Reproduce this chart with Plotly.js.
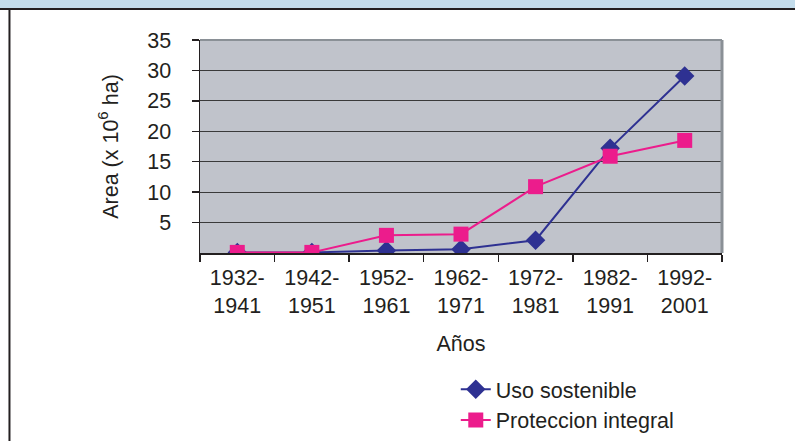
<!DOCTYPE html>
<html>
<head>
<meta charset="utf-8">
<script src="https://cdn.plot.ly/plotly-3.0.1.min.js"></script>
<style>
html,body{margin:0;padding:0;background:#fff;}
#chart{width:795px;height:441px;}
</style>
</head>
<body>
<div id="chart"></div>
<script>
const categories = ["1932-<br>1941","1942-<br>1951","1952-<br>1961","1962-<br>1971","1972-<br>1981","1982-<br>1991","1992-<br>2001"];
const usoSostenible = [0.1, 0.1, 0.4, 0.6, 2.1, 17.2, 29.1];
const proteccionIntegral = [0.1, 0.1, 2.9, 3.1, 10.9, 15.9, 18.5];
const yTicks = [5, 10, 15, 20, 25, 30, 35];

const font = {family: "Liberation Sans, Arial, sans-serif", size: 21.5, color: "#231f20"};

const traces = [
  {
    x: categories, y: usoSostenible, name: "Uso sostenible",
    type: "scatter", mode: "lines+markers",
    line: {color: "#2e3192", width: 2},
    marker: {symbol: "diamond", size: 15, color: "#2e3192"}
  },
  {
    x: categories, y: proteccionIntegral, name: "Proteccion integral",
    type: "scatter", mode: "lines+markers",
    line: {color: "#ec1c8c", width: 2},
    marker: {symbol: "square", size: 15, color: "#ec1c8c"}
  }
];

const layout = {
  width: 795, height: 441,
  margin: {l: 200, r: 73, t: 40, b: 188, autoexpand: false},
  paper_bgcolor: "#ffffff",
  plot_bgcolor: "#c0c3cb",
  font: font,
  showlegend: true,
  legend: {
    x: 0.49, xanchor: "left", y: -0.543, yanchor: "top",
    font: font, bgcolor: "rgba(0,0,0,0)", tracegroupgap: 0
  },
  xaxis: {
    type: "category",
    automargin: false,
    tickson: "boundaries",
    ticks: "outside", ticklen: 7, tickcolor: "#231f20", tickwidth: 1.5,
    showline: true, linecolor: "#231f20", linewidth: 1.5,
    showgrid: false, zeroline: false,
    ticklabelstandoff: 5,
    tickfont: font,
    title: {text: "Años", font: font, standoff: 18},
    range: [-0.5, 6.5]
  },
  yaxis: {
    automargin: false,
    range: [0, 35],
    tickvals: yTicks,
    ticks: "outside", ticklen: 7, tickcolor: "#231f20", tickwidth: 1.5,
    showline: true, linecolor: "#231f20", linewidth: 1.5,
    showgrid: true, gridcolor: "#3a3a3a", gridwidth: 1,
    zeroline: false,
    ticklabelstandoff: 16,
    tickfont: font,
    title: {text: "Area (x 10<sup>6</sup> ha)", font: font, standoff: 23}
  },
  shapes: [
    {type: "rect", xref: "paper", yref: "paper", x0: -0.4, x1: 1.2, y0: 1.146, y1: 1.2,
     fillcolor: "#c3dceb", line: {width: 0}, layer: "below"},
    {type: "line", xref: "paper", yref: "paper", x0: -0.4, x1: 1.2, y0: 1.146, y1: 1.146,
     line: {color: "#231f20", width: 2}},
    {type: "line", xref: "paper", yref: "paper", x0: -0.365, x1: -0.365, y0: 1.146, y1: -1.0,
     line: {color: "#231f20", width: 2}},
    {type: "line", xref: "paper", yref: "paper", x0: 0, x1: 1, y0: 1, y1: 1,
     line: {color: "#8a9096", width: 2}},
    {type: "line", xref: "paper", yref: "paper", x0: 1, x1: 1, y0: 0, y1: 1,
     line: {color: "#8a9096", width: 3}}
  ]
};

Plotly.newPlot("chart", traces, layout, {displayModeBar: false, staticPlot: true});
</script>
</body>
</html>
